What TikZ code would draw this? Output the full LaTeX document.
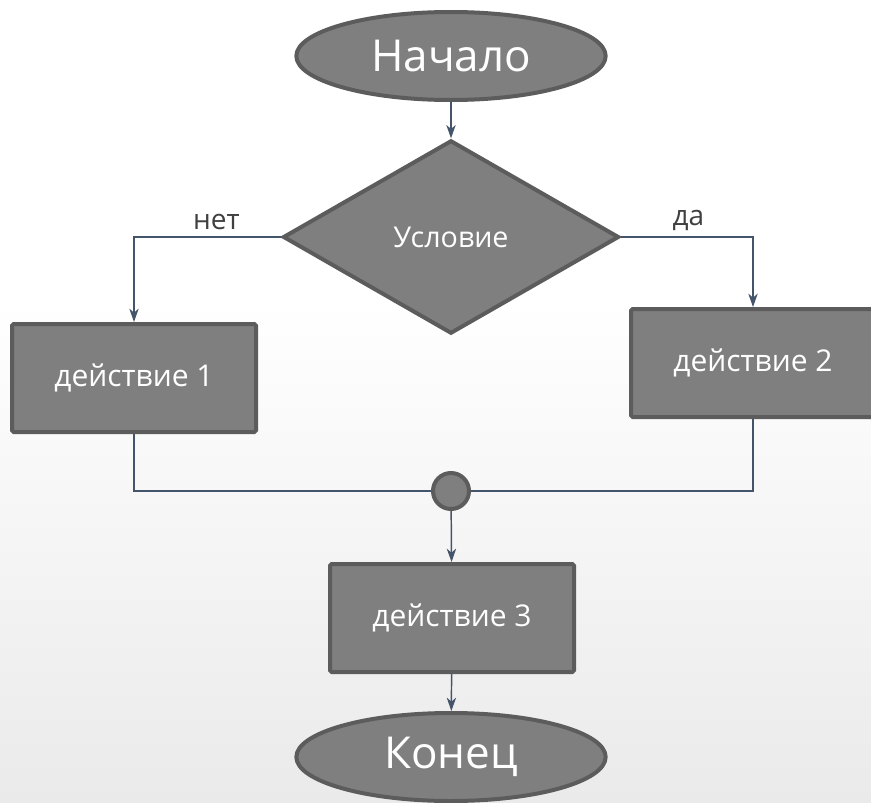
\documentclass[tikz,border=0pt]{standalone}
\usepackage{fontspec}
\setmainfont{Open Sans}
\usetikzlibrary{shapes.geometric,arrows.meta}
\definecolor{shapefill}{HTML}{7F7F7F}
\definecolor{shapeline}{HTML}{5C5C5C}
\definecolor{wire}{HTML}{44546A}
\definecolor{labeltext}{HTML}{404040}
\definecolor{bgbottom}{HTML}{EAEAEA}
\tikzset{
  block/.style={draw=shapeline, fill=shapefill, line width=3pt, text=white},
  terminal/.style={block, ellipse, inner sep=0pt, minimum width=232pt, minimum height=66pt, font=\fontsize{33}{36}\selectfont},
  decision/.style={block, diamond, inner sep=0pt, aspect=1.74, minimum width=252pt, minimum height=145pt, font=\fontsize{21.5}{24}\selectfont},
  action/.style={block, rectangle, rounded corners=1.2pt, inner sep=0pt, minimum width=183pt, minimum height=81pt, font=\fontsize{22.5}{25}\selectfont},
  junction/.style={block, circle, inner sep=0pt, minimum size=27pt},
  wireline/.style={draw=wire, line width=1.1pt},
  flow/.style={wireline, -{Stealth[length=10pt, width=7pt, inset=3pt]}},
  branch/.style={text=labeltext, font=\fontsize{21}{24}\selectfont, inner sep=4.5pt},
}
\begin{document}
\begin{tikzpicture}[x=0.75pt, y=-0.75pt]
  % canvas: white top fading to light grey at the bottom
  \clip (0,0) rectangle (871,803);
  \fill[white] (0,0) rectangle (871,300);
  \shade[top color=white, bottom color=bgbottom] (0,300) rectangle (871,803);

  % blocks
  \node[terminal] (start) at (451,56) {Начало};
  \node[decision] (cond) at (451,237) {Условие};
  \node[action] (a1) at (134,378) {действие 1};
  \node[action] (a2) at (753,363) {действие 2};
  \node[junction] (j) at (451,491) {};
  \node[action] (a3) at (452,618) {действие 3};
  \node[terminal] (stop) at (451,757) {Конец};

  % connectors
  \draw[flow] (start) -- (cond);
  \draw[flow] (cond.west) -| node[branch, above, pos=0.22] (no) {нет} (a1);
  \draw[flow] (cond.east) -| node[branch, above, pos=0.255] (yes) {да} (a2);
  \draw[wireline] (a1) |- (j);
  \draw[wireline] (a2) |- (j);
  \draw[flow] (j) -- (a3);
  \draw[flow] (a3) -- (stop);
\end{tikzpicture}
\end{document}
